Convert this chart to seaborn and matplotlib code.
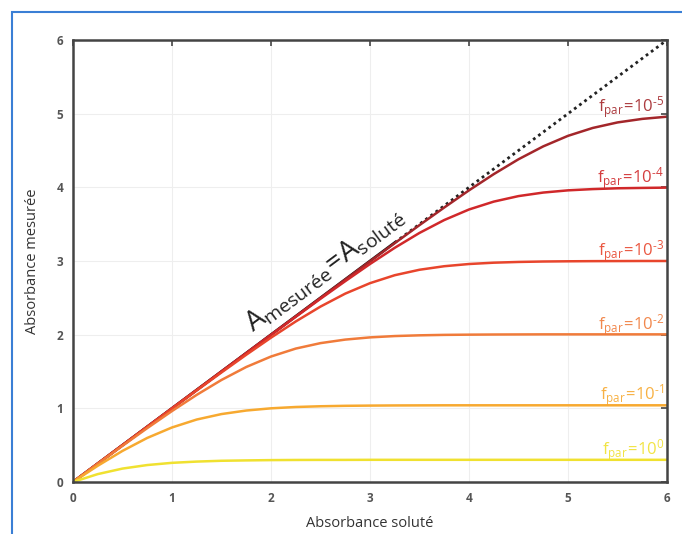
import numpy as np
import pandas as pd
import seaborn as sns
import matplotlib.pyplot as plt
from matplotlib.patches import Rectangle

# absorbance of the solute (x axis)
a_solute = [0, 0.25, 0.5, 0.75, 1, 1.25, 1.5, 1.75, 2, 2.25, 2.5, 2.75, 3,
            3.25, 3.5, 3.75, 4, 4.25, 4.5, 4.75, 5, 5.25, 5.5, 5.75, 6]

# measured absorbance, one list per stray light fraction
a_f0 = [0, 0.107, 0.182, 0.230, 0.260, 0.277, 0.288, 0.293, 0.297, 0.299, 0.300, 0.300, 0.301,
        0.301, 0.301, 0.301, 0.301, 0.301, 0.301, 0.301, 0.301, 0.301, 0.301, 0.301, 0.301]
a_f1 = [0, 0.220, 0.422, 0.598, 0.740, 0.848, 0.922, 0.970, 1.000, 1.018, 1.028, 1.034, 1.037,
        1.039, 1.040, 1.041, 1.041, 1.041, 1.041, 1.041, 1.041, 1.041, 1.041, 1.041, 1.041]
a_f2 = [0, 0.247, 0.491, 0.731, 0.963, 1.183, 1.385, 1.561, 1.703, 1.811, 1.885, 1.933, 1.963,
        1.981, 1.991, 1.997, 2.000, 2.002, 2.003, 2.004, 2.004, 2.004, 2.004, 2.004, 2.004]
a_f3 = [0, 0.250, 0.499, 0.748, 0.996, 1.243, 1.487, 1.727, 1.959, 2.179, 2.381, 2.557, 2.699,
        2.807, 2.881, 2.929, 2.959, 2.977, 2.987, 2.993, 2.996, 2.998, 2.999, 3.000, 3.000]
a_f4 = [0, 0.250, 0.500, 0.750, 1.000, 1.249, 1.499, 1.748, 1.996, 2.242, 2.487, 2.726, 2.959,
        3.179, 3.381, 3.556, 3.699, 3.806, 3.881, 3.929, 3.959, 3.976, 3.987, 3.992, 3.996]
a_f5 = [0, 0.250, 0.500, 0.750, 1.000, 1.250, 1.500, 1.750, 2.000, 2.249, 2.499, 2.748, 2.996,
        3.242, 3.487, 3.726, 3.959, 4.179, 4.381, 4.556, 4.699, 4.806, 4.881, 4.929, 4.959]

exponents = ['0', '-1', '-2', '-3', '-4', '-5']
colors = ['#f0e130', '#f7a930', '#f07b3a', '#e8452c', '#d0282a', '#a3262a']

# y = x reference line (solid part under the annotation, dotted after)
ident_solid = [0, 3.25]
ident_dotted = [3.25, 6]

series = [a_f0, a_f1, a_f2, a_f3, a_f4, a_f5]
df = pd.concat([pd.DataFrame({'x': a_solute, 'y': s, 'f': e})
                for s, e in zip(series, exponents)])

sns.set_style('white')
plt.rcParams['font.family'] = ['Open Sans', 'DejaVu Sans']
plt.rcParams['mathtext.fontset'] = 'custom'
plt.rcParams['mathtext.rm'] = 'Open Sans:semibold'

fig = plt.figure(figsize=(6.82, 5.34), dpi=100)
ax = fig.add_axes([0.107, 0.0974, 0.871, 0.8277])

ax.plot(ident_dotted, ident_dotted, color='#222222', lw=2, ls=(0, (1, 1.3)), zorder=1)
ax.plot(ident_solid, ident_solid, color='#111111', lw=2, zorder=1)

sns.lineplot(data=df, x='x', y='y', hue='f', palette=dict(zip(exponents, colors)),
             hue_order=exponents[::-1], lw=1.8, legend=False, ax=ax, zorder=2)

for s, e, c in zip(series, exponents, colors):
    ax.text(5.97, s[-1] + 0.07, r'$\mathregular{f_{par}\!=\!10^{' + e.replace('-', '\u2011') + '}}$',
            color=c, fontsize=12, ha='right', va='baseline', alpha=0.9)

ax.text(1.86, 1.95, r'$\mathregular{A_{mesurée}\!=\!A_{soluté}}$', fontsize=20,
        rotation=36.7, rotation_mode='anchor', ha='left', va='bottom', color='#222222')

ax.set_xlim(0, 6)
ax.set_ylim(0, 6)
ax.set_xticks(range(7))
ax.set_yticks(range(7))
ax.grid(True, color='#eeeeee', lw=0.8)
ax.tick_params(direction='in', length=4, width=1.2, top=True, right=True,
               labelsize=8.5, labelcolor='#555555', color='#444444', pad=7)
plt.setp(ax.get_xticklabels() + ax.get_yticklabels(), fontweight='bold')
for sp in ax.spines.values():
    sp.set_color('#444444')
    sp.set_linewidth(1.8)
ax.set_xlabel('Absorbance soluté', fontsize=10.5, color='#333333', labelpad=8)
ax.set_ylabel('Absorbance mesurée', fontsize=10.5, color='#333333', labelpad=12)

fig.patches.append(Rectangle((0.0176, -0.2), 1.2, 1.1775, transform=fig.transFigure,
                             fill=False, edgecolor='#3a7fd5', lw=1.5))

fig.savefig('out.png', dpi=100)
